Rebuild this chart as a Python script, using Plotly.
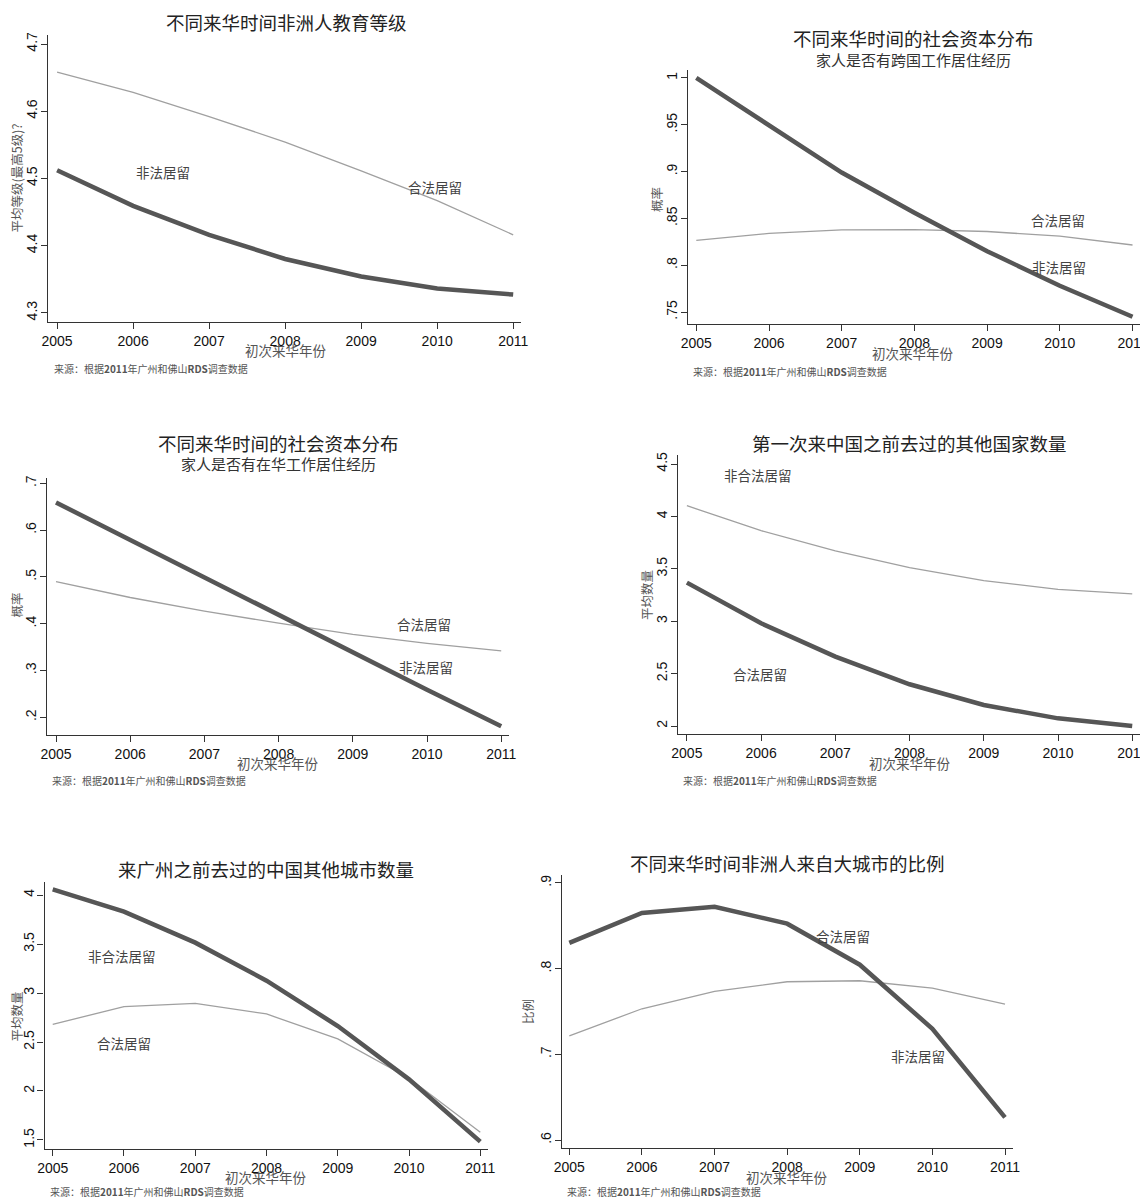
import plotly.graph_objects as go

# page body has an 8px default margin: the figure is drawn offset by it
OFF = 8
W, H = 1148 - OFF, 1198 - OFF

years = [2005, 2006, 2007, 2008, 2009, 2010, 2011]
year_labels = ["2005", "2006", "2007", "2008", "2009", "2010", "2011"]

# Panel 1: 教育等级
p1_legal = [4.658, 4.628, 4.592, 4.554, 4.511, 4.467, 4.416]
p1_illegal = [4.512, 4.459, 4.416, 4.380, 4.354, 4.336, 4.327]
p1_ticks = [4.3, 4.4, 4.5, 4.6, 4.7]
p1_ticktext = ["4.3", "4.4", "4.5", "4.6", "4.7"]

# Panel 2: 跨国工作居住经历
p2_illegal = [1.000, 0.949, 0.899, 0.856, 0.815, 0.778, 0.745]
p2_legal = [0.8266, 0.834, 0.8377, 0.838, 0.836, 0.831, 0.8216]
p2_ticks = [0.75, 0.8, 0.85, 0.9, 0.95, 1.0]
p2_ticktext = [".75", ".8", ".85", ".9", ".95", "1"]

# Panel 3: 在华工作居住经历
p3_illegal = [0.659, 0.579, 0.498, 0.419, 0.338, 0.259, 0.181]
p3_legal = [0.490, 0.456, 0.427, 0.401, 0.377, 0.358, 0.342]
p3_ticks = [0.2, 0.3, 0.4, 0.5, 0.6, 0.7]
p3_ticktext = [".2", ".3", ".4", ".5", ".6", ".7"]

# Panel 4: 其他国家数量
p4_thick = [3.368, 2.980, 2.662, 2.398, 2.200, 2.073, 2.000]
p4_thin = [4.102, 3.864, 3.670, 3.511, 3.387, 3.304, 3.260]
p4_ticks = [2, 2.5, 3, 3.5, 4, 4.5]
p4_ticktext = ["2", "2.5", "3", "3.5", "4", "4.5"]

# Panel 5: 中国其他城市数量
p5_thick = [4.058, 3.830, 3.514, 3.126, 2.663, 2.119, 1.483]
p5_thin = [2.680, 2.861, 2.895, 2.786, 2.531, 2.130, 1.578]
p5_ticks = [1.5, 2, 2.5, 3, 3.5, 4]
p5_ticktext = ["1.5", "2", "2.5", "3", "3.5", "4"]

# Panel 6: 来自大城市的比例
p6_thick = [0.830, 0.865, 0.8723, 0.8525, 0.8046, 0.7298, 0.6265]
p6_thin = [0.7216, 0.7532, 0.7734, 0.7847, 0.7859, 0.7773, 0.7586]
p6_ticks = [0.6, 0.7, 0.8, 0.9]
p6_ticktext = [".6", ".7", ".8", ".9"]

THICK = dict(color="#565656", width=4.5)
THIN = dict(color="#a0a0a0", width=1.3)

CJK = "Noto Sans CJK SC"
LATIN = "Liberation Sans, Arial"

panels = [
    dict(box=(48.2, 35, 521.4, 322), xr=(2004.883, 2011.108), yr=(4.2862, 4.7134),
         ticks=p1_ticks, ticktext=p1_ticktext, thick=p1_illegal, thin=p1_legal,
         title=("不同来华时间非洲人教育等级", 286, 22), sub=None,
         ytitle=("平均等级(最高5级)?", 16.5, 178), xtitle=(286, 350), src=(51.8, 368),
         labels=[("非法居留", 163, 172), ("合法居留", 435, 187)]),
    dict(box=(688, 70, 1139.8, 324), xr=(2004.886, 2011.100), yr=(0.7372, 1.0085),
         ticks=p2_ticks, ticktext=p2_ticktext, thick=p2_illegal, thin=p2_legal,
         title=("不同来华时间的社会资本分布", 913, 38), sub=("家人是否有跨国工作居住经历", 913, 60),
         ytitle=("概率", 657, 200), xtitle=(913, 353), src=(690.5, 371),
         labels=[("合法居留", 1057.5, 220), ("非法居留", 1059, 267)]),
    dict(box=(47.1, 478, 509, 735), xr=(2004.880, 2011.105), yr=(0.1622, 0.7113),
         ticks=p3_ticks, ticktext=p3_ticktext, thick=p3_illegal, thin=p3_legal,
         title=("不同来华时间的社会资本分布", 278, 443), sub=("家人是否有在华工作居住经历", 278, 464),
         ytitle=("概率", 15.5, 605), xtitle=(278, 763), src=(50, 780),
         labels=[("合法居留", 424, 624), ("非法居留", 426, 667)]),
    dict(box=(678.2, 455, 1139.8, 734), xr=(2004.883, 2011.102), yr=(1.9237, 4.5859),
         ticks=p4_ticks, ticktext=p4_ticktext, thick=p4_thick, thin=p4_thin,
         title=("第一次来中国之前去过的其他国家数量", 909.7, 443), sub=None,
         ytitle=("平均数量", 646, 595), xtitle=(909.7, 763), src=(681.4, 780),
         labels=[("非合法居留", 758, 475), ("合法居留", 760.4, 674)]),
    dict(box=(44.6, 881.7, 487.5, 1149), xr=(2004.886, 2011.101), yr=(1.408, 4.136),
         ticks=p5_ticks, ticktext=p5_ticktext, thick=p5_thick, thin=p5_thin,
         title=("来广州之前去过的中国其他城市数量", 266, 869), sub=None,
         ytitle=("平均数量", 15.5, 1017), xtitle=(266, 1177), src=(48, 1191),
         labels=[("非合法居留", 122, 956), ("合法居留", 124, 1043)]),
    dict(box=(561.7, 875, 1012.7, 1148), xr=(2004.895, 2011.106), yr=(0.5907, 0.9093),
         ticks=p6_ticks, ticktext=p6_ticktext, thick=p6_thick, thin=p6_thin,
         title=("不同来华时间非洲人来自大城市的比例", 787, 863), sub=None,
         ytitle=("比例", 527, 1012), xtitle=(787, 1177), src=(565, 1191),
         labels=[("合法居留", 843, 936), ("非法居留", 918, 1056)]),
]


def px(x):
    return (x - OFF) / W


def py(y):
    return 1 - (y - OFF) / H


fig = go.Figure()
layout = dict(width=W, height=H, margin=dict(l=0, r=0, t=0, b=0, autoexpand=False),
              paper_bgcolor="white", plot_bgcolor="white", showlegend=False,
              annotations=[])

for i, p in enumerate(panels, start=1):
    xa = "x" if i == 1 else f"x{i}"
    ya = "y" if i == 1 else f"y{i}"
    l, t, r, b = p["box"]
    fig.add_trace(go.Scatter(x=years, y=p["thin"], mode="lines", line=THIN,
                             xaxis=xa, yaxis=ya, hoverinfo="skip", cliponaxis=False))
    fig.add_trace(go.Scatter(x=years, y=p["thick"], mode="lines", line=THICK,
                             xaxis=xa, yaxis=ya, hoverinfo="skip", cliponaxis=False))
    xkey = "xaxis" if i == 1 else f"xaxis{i}"
    ykey = "yaxis" if i == 1 else f"yaxis{i}"
    layout[xkey] = dict(domain=[px(l), px(r)], range=list(p["xr"]), anchor=ya,
                        automargin=False,
                        showline=True, linecolor="#333", linewidth=1.3,
                        showgrid=False, zeroline=False, ticks="outside", ticklen=6,
                        tickcolor="#333", tickwidth=1, tickvals=years,
                        ticktext=year_labels,
                        tickfont=dict(family=LATIN, size=14, color="#111"))
    layout[ykey] = dict(domain=[py(b), py(t)], range=list(p["yr"]), anchor=xa,
                        automargin=False,
                        showline=True, linecolor="#333", linewidth=1.3,
                        showgrid=False, zeroline=False, ticks="outside", ticklen=6,
                        tickcolor="#333", tickwidth=1, tickvals=p["ticks"],
                        ticktext=p["ticktext"], tickangle=-90, ticklabelstandoff=-2,
                        tickfont=dict(family=LATIN, size=14, color="#111"))
    ann = layout["annotations"]
    tt, tx, ty = p["title"]
    ann.append(dict(text=tt, x=px(tx), y=py(ty), xref="paper", yref="paper",
                    showarrow=False, xanchor="center", yanchor="middle",
                    font=dict(family=CJK, size=18.5, color="#222")))
    if p["sub"]:
        st, sx, sy = p["sub"]
        ann.append(dict(text=st, x=px(sx), y=py(sy), xref="paper", yref="paper",
                        showarrow=False, xanchor="center", yanchor="middle",
                        font=dict(family=CJK, size=15, color="#333")))
    yt, yx, yy = p["ytitle"]
    ann.append(dict(text=yt, x=px(yx), y=py(yy), xref="paper", yref="paper",
                    showarrow=False, xanchor="center", yanchor="middle", textangle=-90,
                    font=dict(family=CJK, size=12.5, color="#555")))
    xx, xy = p["xtitle"]
    ann.append(dict(text="初次来华年份", x=px(xx), y=py(xy), xref="paper", yref="paper",
                    showarrow=False, xanchor="center", yanchor="middle",
                    font=dict(family=CJK, size=13.5, color="#555")))
    sx, sy = p["src"]
    ann.append(dict(text="来源：根据<b>2011</b>年广州和佛山<b>RDS</b>调查数据", x=px(sx), y=py(sy),
                    xref="paper", yref="paper", showarrow=False, xanchor="left",
                    yanchor="middle", font=dict(family=CJK, size=10, color="#555")))
    for lt, lx, ly in p["labels"]:
        ann.append(dict(text=lt, x=px(lx), y=py(ly), xref="paper", yref="paper",
                        showarrow=False, xanchor="center", yanchor="middle",
                        font=dict(family=CJK, size=13.5, color="#444")))

fig.update_layout(**layout)
fig.write_html("out.html")
